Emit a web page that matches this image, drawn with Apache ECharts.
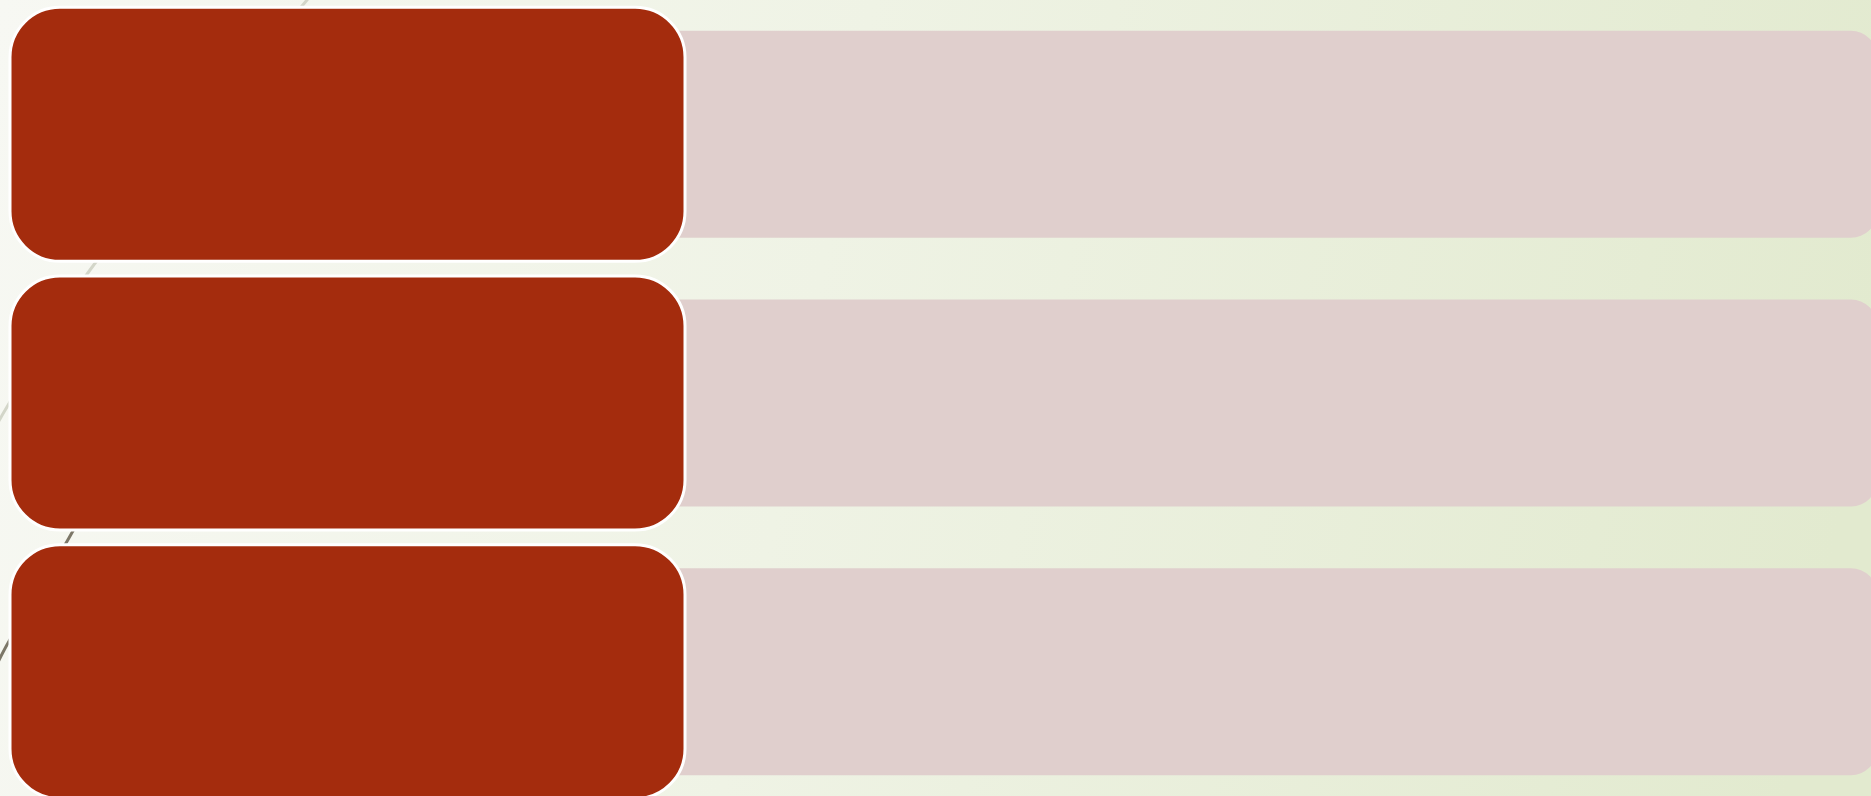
<!DOCTYPE html>
<html>
<head>
<meta charset="utf-8">
<script src="https://cdn.jsdelivr.net/npm/echarts@6/dist/echarts.min.js"></script>
<style>
  html, body { margin: 0; padding: 0; }
  #main { width: 1871px; height: 796px; }
</style>
</head>
<body>
<div id="main"></div>
<script>
// three rows, no text in the picture
var rows = ["1", "2", "3"];
// share of each lane that is filled (percent of its axis)
var headerValues = [100, 100, 100];
var detailValues = [100, 100, 100];

var chartDom = document.getElementById("main");
var myChart = echarts.init(chartDom);
var option;

var hiddenAxis = { show: false };

// rounded box drawn on the axis scale of its grid
function laneBox(bandWidth, radius, fill, stroke, strokeWidth) {
  return function (params, api) {
    var start = api.coord([0, api.value(0)]);
    var end = api.coord([api.value(1), api.value(0)]);
    return {
      type: "rect",
      shape: {
        x: start[0],
        y: start[1] - bandWidth / 2,
        width: end[0] - start[0],
        height: bandWidth,
        r: [radius, radius, radius, radius]
      },
      style: { fill: fill, stroke: stroke, lineWidth: strokeWidth }
    };
  };
}

option = {
  animation: false,
  backgroundColor: {
    type: "linear",
    x: 0, y: 0, x2: 1, y2: 0.45,
    colorStops: [
      { offset: 0, color: "#f7f8f3" },
      { offset: 0.45, color: "#eff3e5" },
      { offset: 1, color: "#e2eacf" }
    ]
  },
  graphic: [
    {
      type: "polyline", z: -10, silent: true,
      shape: { points: [[312, -6], [90, 270], [4, 412], [-6, 430]], smooth: 0.3 },
      style: { stroke: "#d3d6c9", lineWidth: 3, fill: null }
    },
    {
      type: "polyline", z: -10, silent: true,
      shape: { points: [[78, 522], [62, 550], [8, 643], [-4, 666]], smooth: 0.3 },
      style: { stroke: "#7c7768", lineWidth: 3, fill: null }
    }
  ],
  grid: [
    { left: 40, right: -6, top: 0, height: 806, outerBoundsMode: "none" },
    { left: 10, right: 1186, top: 0, height: 806, outerBoundsMode: "none" }
  ],
  xAxis: [
    Object.assign({ type: "value", min: 0, max: 100, gridIndex: 0 }, hiddenAxis),
    Object.assign({ type: "value", min: 0, max: 100, gridIndex: 1 }, hiddenAxis)
  ],
  yAxis: [
    Object.assign({ type: "category", data: rows, inverse: true, gridIndex: 0 }, hiddenAxis),
    Object.assign({ type: "category", data: rows, inverse: true, gridIndex: 1 }, hiddenAxis)
  ],
  series: [
    {
      name: "detail",
      type: "custom",
      xAxisIndex: 0,
      yAxisIndex: 0,
      silent: true,
      clip: false,
      encode: { x: 1, y: 0 },
      data: rows.map(function (r, i) { return [i, detailValues[i]]; }),
      renderItem: laneBox(207, 26, "#e0cfcd", null, 0)
    },
    {
      name: "header",
      type: "custom",
      xAxisIndex: 1,
      yAxisIndex: 1,
      silent: true,
      clip: false,
      encode: { x: 1, y: 0 },
      data: rows.map(function (r, i) { return [i, headerValues[i]]; }),
      renderItem: laneBox(254, 50, "#a42c0d", "#ffffff", 3)
    }
  ]
};

option && myChart.setOption(option);
</script>
</body>
</html>
